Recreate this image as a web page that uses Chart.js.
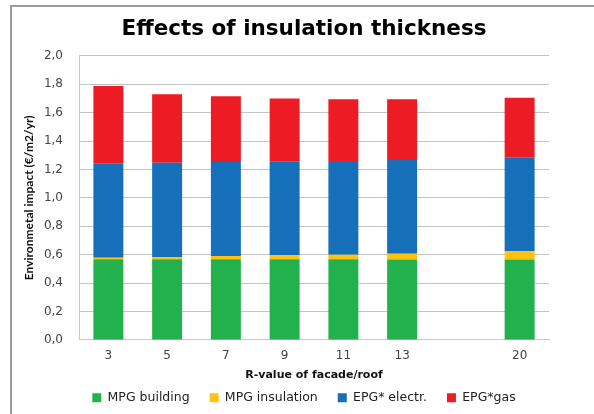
<!DOCTYPE html>
<html>
<head>
<meta charset="utf-8">
<script src="https://cdn.jsdelivr.net/npm/chart.js@4"></script>
<style>
  body { margin: 0; background: #fff; overflow: hidden; }
</style>
</head>
<body>
<canvas id="chart" width="594" height="414"></canvas>
<script>
const categorias = ["3", "5", "7", "9", "11", "13", "", "20"];
const mpgBuilding   = [0.567, 0.567, 0.567, 0.567, 0.567, 0.566, null, 0.566];
const mpgInsulation = [0.012, 0.017, 0.024, 0.031, 0.033, 0.041, null, 0.058];
const epgElectr     = [0.661, 0.663, 0.661, 0.656, 0.659, 0.659, null, 0.658];
const epgGas        = [0.548, 0.482, 0.463, 0.445, 0.435, 0.428, null, 0.422];

const FONT = "Lato, sans-serif";
const WIDE = "'DejaVu Sans', sans-serif";

// gray frame line on top and left, like the pasted chart object
const marco = {
  id: "marco",
  beforeDraw(chart) {
    const c = chart.ctx;
    c.save();
    c.strokeStyle = "#9a9a9a";
    c.lineWidth = 2;
    c.beginPath();
    c.moveTo(11, chart.height);
    c.lineTo(11, 6);
    c.lineTo(chart.width, 6);
    c.stroke();
    c.restore();
  }
};

const ctx = document.getElementById("chart").getContext("2d");
new Chart(ctx, {
  type: "bar",
  data: {
    labels: categorias,
    datasets: [
      { label: "MPG building", data: mpgBuilding, backgroundColor: "#22b14c" },
      { label: "MPG insulation", data: mpgInsulation, backgroundColor: "#ffc20e" },
      { label: "EPG* electr.", data: epgElectr, backgroundColor: "#166fb9" },
      { label: "EPG*gas", data: epgGas, backgroundColor: "#ed1c24" }
    ]
  },
  options: {
    responsive: false,
    animation: false,
    maintainAspectRatio: false,
    datasets: { bar: { barPercentage: 0.51, categoryPercentage: 1.0 } },
    layout: { padding: { left: 18, right: 4, top: 11, bottom: 0 } },
    plugins: {
      title: {
        display: true,
        text: "Effects of insulation thickness",
        color: "#000",
        font: { family: WIDE, size: 21.5, weight: "bold" },
        padding: { top: 6, bottom: 13 }
      },
      legend: {
        position: "bottom",
        labels: {
          boxWidth: 9, boxHeight: 9, padding: 20,
          color: "#222",
          font: { family: WIDE, size: 12.5 }
        }
      },
      tooltip: { enabled: false }
    },
    scales: {
      x: {
        stacked: true,
        grid: { display: false, drawTicks: false },
        border: { color: "#c8c8c8", width: 1 },
        ticks: { color: "#444", font: { family: WIDE, size: 12 }, padding: 9, maxRotation: 0 },
        title: {
          display: true, text: "R-value of facade/roof", color: "#111",
          font: { family: WIDE, size: 11, weight: "bold" }, padding: { top: -4, bottom: -10 }
        }
      },
      y: {
        stacked: true,
        min: 0, max: 2,
        afterFit: s => { s.width = 61; },
        grid: { color: "#c4c4c4", drawTicks: false },
        border: { color: "#c8c8c8", width: 1 },
        ticks: {
          stepSize: 0.2, color: "#444", padding: 16,
          font: { family: WIDE, size: 12 },
          callback: v => v.toFixed(1).replace(".", ",")
        },
        title: {
          display: true, text: "Environmetal impact (€/m2/yr)", color: "#111",
          font: { family: FONT, size: 12, weight: "bold" }, padding: { bottom: 4 }
        }
      },
      // empty axis on the right, only keeps the plot narrower than the legend area
      margen: {
        type: "linear",
        position: "right",
        afterFit: s => { s.width = 41; },
        grid: { display: false, drawOnChartArea: false },
        border: { display: false },
        ticks: { display: false }
      }
    }
  },
  plugins: [marco]
});
</script>
</body>
</html>
